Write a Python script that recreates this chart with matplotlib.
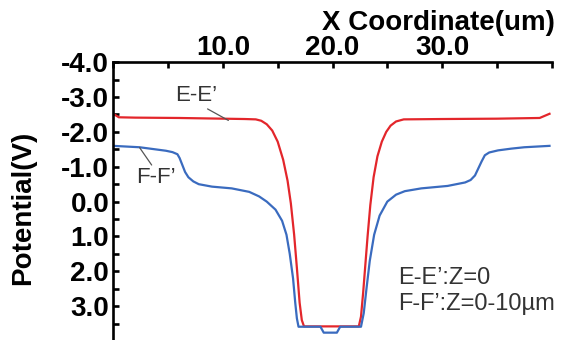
"""
Potential profiles along E-E' and F-F' cut lines
"""
import matplotlib
matplotlib.use('Agg')
import matplotlib.pyplot as plt

# E-E' (Z=0) profile
ee_x = [0.0, 0.5, 2.0, 6.0, 10.0, 12.0, 13.0, 13.5, 14.0, 14.5, 15.0, 15.5, 15.9,
        16.2, 16.5, 16.75, 17.0, 17.2, 17.4, 22.4, 22.6, 22.8, 23.0, 23.2, 23.45,
        23.75, 24.1, 24.5, 24.9, 25.3, 25.8, 26.5, 30.0, 35.0, 38.9, 39.8]
ee_v = [-2.52, -2.42, -2.41, -2.40, -2.38, -2.37, -2.36, -2.32, -2.22, -2.04,
        -1.72, -1.2, -0.6, 0.05, 0.95, 1.9, 2.9, 3.4, 3.58, 3.58, 3.3, 2.6, 1.8,
        1.0, 0.1, -0.7, -1.3, -1.72, -2.0, -2.18, -2.3, -2.36, -2.37, -2.38,
        -2.40, -2.52]

# F-F' (Z=0-10um) profile
ff_x = [0.0, 2.4, 4.8, 5.4, 5.85, 6.05, 6.3, 6.55, 6.85, 7.3, 7.8, 9.0, 10.8,
        12.4, 13.3, 14.0, 14.8, 15.4, 15.8, 16.1, 16.4, 16.6, 16.75, 16.9, 18.9,
        19.2, 20.4, 20.7, 22.6, 22.85, 23.1, 23.4, 23.8, 24.3, 25.0, 25.8, 26.6,
        28.1, 30.5, 32.1, 32.6, 33.0, 33.3, 33.6, 33.9, 34.3, 35.1, 36.3, 37.5,
        39.8]
ff_v = [-1.60, -1.56, -1.46, -1.42, -1.36, -1.25, -1.05, -0.85, -0.70, -0.58,
        -0.50, -0.43, -0.38, -0.28, -0.15, 0.0, 0.23, 0.55, 0.95, 1.5, 2.2, 2.9,
        3.35, 3.59, 3.59, 3.76, 3.76, 3.59, 3.59, 3.2, 2.5, 1.7, 0.95, 0.4, 0.0,
        -0.2, -0.3, -0.38, -0.45, -0.55, -0.62, -0.75, -0.95, -1.15, -1.33, -1.41,
        -1.47, -1.52, -1.56, -1.60]

x_ticks = [0, 5, 10, 15, 20, 25, 30, 35, 40]
x_labels = ['', '', '10.0', '', '20.0', '', '30.0', '', '']
y_ticks = [-4, -3, -2, -1, 0, 1, 2, 3, 4]
y_labels = ['-4.0', '-3.0', '-2.0', '-1.0', '0.0', '1.0', '2.0', '3.0', '']

RED = '#e3262b'
BLUE = '#3a6bbf'
TXT = '#333333'
LEAD = '#555555'

plt.rcParams['font.family'] = ['Liberation Sans', 'DejaVu Sans']

fig = plt.figure(figsize=(5.65, 3.4), dpi=100)
ax = fig.add_axes([113.3 / 565, -0.003, 438.4 / 565, 0.82])

ax.plot(ee_x, ee_v, color=RED, lw=1.6, solid_joinstyle='round')
ax.plot(ff_x, ff_v, color=BLUE, lw=1.6, solid_joinstyle='round')

ax.set_xlim(0, 40)
ax.set_ylim(4, -4)

# axes look: only left and top spines, x axis on top
for side in ['right', 'bottom']:
    ax.spines[side].set_visible(False)
for side in ['left', 'top']:
    ax.spines[side].set_linewidth(1.9)
ax.xaxis.tick_top()
ax.set_xticks(x_ticks)
ax.set_xticklabels(x_labels, fontsize=20, fontweight='bold')
ax.set_yticks(y_ticks)
ax.set_yticklabels(y_labels, fontsize=20, fontweight='bold')
ax.set_yticks([-3.5, -2.5, -1.5, -0.5, 0.5, 1.5, 2.5, 3.5], minor=True)
ax.tick_params(axis='x', direction='in', length=4, width=1.9, pad=1)
ax.tick_params(axis='y', which='both', direction='in', length=4, width=1.9, pad=3)

fig.text(555 / 565, 1 - 23 / 340, 'X Coordinate(um)', ha='right', va='center',
         fontsize=20, fontweight='bold')
fig.text(23 / 565, 1 - 208 / 340, 'Potential(V)', ha='center', va='center',
         rotation=90, fontsize=20, fontweight='bold')

# curve labels with leader lines
ax.text(7.6, -3.05, 'E-E\u2019', ha='center', va='center', fontsize=16, color=TXT)
ax.annotate('', xy=(10.5, -2.33), xytext=(8.6, -2.66),
            arrowprops=dict(arrowstyle='-', color=LEAD, lw=0.9, shrinkA=0, shrinkB=0))
ax.text(3.9, -0.7, 'F-F\u2019', ha='center', va='center', fontsize=16, color=TXT)
ax.annotate('', xy=(2.4, -1.55), xytext=(3.5, -1.05),
            arrowprops=dict(arrowstyle='-', color=LEAD, lw=0.9, shrinkA=0, shrinkB=0))

ax.text(26.0, 2.2, 'E-E\u2019:Z=0', ha='left', va='center', fontsize=17, color=TXT)
ax.text(26.0, 2.93, 'F-F\u2019:Z=0-10\u00b5m', ha='left', va='center', fontsize=17, color=TXT)

plt.savefig('out.png', dpi=100)
plt.close()
